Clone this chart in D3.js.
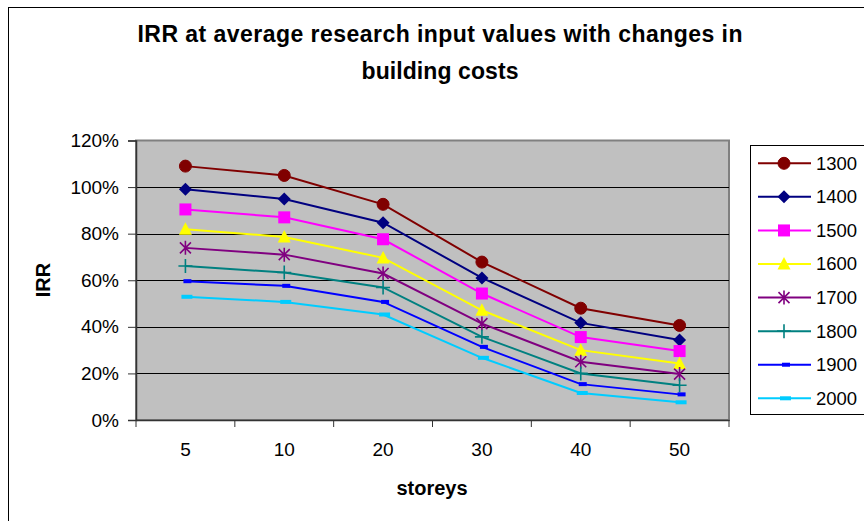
<!DOCTYPE html>
<html>
<head>
<meta charset="utf-8">
<script src="https://cdn.jsdelivr.net/npm/d3@7"></script>
<style>
  body { margin: 0; background: #fff; }
  svg { font-family: "Liberation Sans", Arial, sans-serif; }
</style>
</head>
<body>
<div id="chart-area"></div>
<script>
// chart data
const storeys = ["5", "10", "20", "30", "40", "50"];
const costs = ["1300", "1400", "1500", "1600", "1700", "1800", "1900", "2000"];
const irr1300 = [1.09, 1.05, 0.926, 0.678, 0.48, 0.406];
const irr1400 = [0.991, 0.949, 0.847, 0.61, 0.417, 0.343];
const irr1500 = [0.904, 0.87, 0.776, 0.543, 0.356, 0.296];
const irr1600 = [0.819, 0.786, 0.696, 0.471, 0.30, 0.243];
const irr1700 = [0.739, 0.71, 0.629, 0.414, 0.25, 0.197];
const irr1800 = [0.661, 0.633, 0.569, 0.357, 0.20, 0.149];
const irr1900 = [0.596, 0.576, 0.507, 0.314, 0.154, 0.11];
const irr2000 = [0.529, 0.507, 0.453, 0.267, 0.116, 0.076];
const yTicks = [0, 0.2, 0.4, 0.6, 0.8, 1.0, 1.2];

const seriesValues = [irr1300, irr1400, irr1500, irr1600, irr1700, irr1800, irr1900, irr2000];
const colors = ["#800000", "#000080", "#ff00ff", "#ffff00", "#800080", "#008080", "#0000ff", "#00ccff"];
const shapes = ["circle", "diamond", "square", "triangle", "star", "plus", "dash", "dashWide"];

const W = 864, H = 521;
const plot = { left: 136, right: 729, top: 140.5, bottom: 420 };

const svg = d3.select("#chart-area").append("svg")
  .attr("width", W)
  .attr("height", H);

// outer chart border (right and bottom edges fall outside the picture)
svg.append("rect")
  .attr("x", 8.5).attr("y", 7.5)
  .attr("width", 880).attr("height", 530)
  .attr("fill", "#fff")
  .attr("stroke", "#000");

// Scales
const x = d3.scaleBand().domain(storeys).range([plot.left, plot.right]).padding(0);
const y = d3.scaleLinear().domain([0, 1.2]).range([plot.bottom, plot.top]);
const cx = d => x(d) + x.bandwidth() / 2;

// plot background
svg.append("rect")
  .attr("x", plot.left).attr("y", plot.top)
  .attr("width", plot.right - plot.left).attr("height", plot.bottom - plot.top)
  .attr("fill", "#c0c0c0")
  .attr("stroke", "#808080")
  .attr("stroke-width", 2);

// gridlines
svg.append("g")
  .selectAll("line")
  .data(yTicks.filter(t => t > 0 && t < 1.2))
  .join("line")
  .attr("x1", plot.left).attr("x2", plot.right)
  .attr("y1", d => Math.round(y(d)) + 0.5).attr("y2", d => Math.round(y(d)) + 0.5)
  .attr("stroke", "#000");

// y axis
const yAxis = svg.append("g")
  .attr("transform", `translate(${plot.left},0)`)
  .call(d3.axisLeft(y).tickValues(yTicks).tickFormat(d3.format(".0%")).tickSize(8).tickPadding(9));
yAxis.select(".domain").attr("stroke", "#333").attr("stroke-width", 1.5);
yAxis.selectAll(".tick line").attr("stroke", "#333");
yAxis.selectAll("text").attr("font-size", 19).attr("fill", "#000");

// x axis (labels at centres, ticks at category borders like Excel)
const xAxis = svg.append("g")
  .attr("transform", `translate(0,${plot.bottom})`)
  .call(d3.axisBottom(x).tickSize(0).tickPadding(23));
xAxis.select(".domain").attr("stroke", "#333").attr("stroke-width", 1.5);
xAxis.selectAll("text").attr("font-size", 19).attr("fill", "#000");
xAxis.selectAll("line.cat")
  .data(storeys.concat(["end"]))
  .join("line")
  .attr("class", "cat")
  .attr("x1", (d, i) => plot.left + i * x.step()).attr("x2", (d, i) => plot.left + i * x.step())
  .attr("y1", 0).attr("y2", 7)
  .attr("stroke", "#333");

// markers
function drawMarker(g, shape, color) {
  if (shape === "circle") {
    g.append("circle").attr("r", 6).attr("fill", color).attr("stroke", color);
  } else if (shape === "diamond") {
    g.append("path").attr("d", "M0,-6.5L6.5,0L0,6.5L-6.5,0Z").attr("fill", color);
  } else if (shape === "square") {
    g.append("rect").attr("x", -6).attr("y", -6).attr("width", 12).attr("height", 12).attr("fill", color);
  } else if (shape === "triangle") {
    g.append("path").attr("d", "M0,-7L6.5,5.5L-6.5,5.5Z").attr("fill", color);
  } else if (shape === "star") {
    g.append("path").attr("d", "M-5.5,-5.5L5.5,5.5M-5.5,5.5L5.5,-5.5M0,-7L0,7")
      .attr("stroke", color).attr("stroke-width", 1.6).attr("fill", "none");
  } else if (shape === "plus") {
    g.append("path").attr("d", "M-7,0L7,0M0,-7L0,7")
      .attr("stroke", color).attr("stroke-width", 1.6).attr("fill", "none");
  } else if (shape === "dash") {
    g.append("rect").attr("x", -2).attr("y", -2).attr("width", 8).attr("height", 4).attr("fill", color);
  } else if (shape === "dashWide") {
    g.append("rect").attr("x", -4).attr("y", -2).attr("width", 11).attr("height", 4).attr("fill", color);
  }
}

// series lines
const line = d3.line()
  .x((d, i) => cx(storeys[i]))
  .y(d => y(d));

seriesValues.forEach((vals, k) => {
  svg.append("path")
    .attr("fill", "none")
    .attr("stroke", colors[k])
    .attr("stroke-width", 2)
    .attr("d", line(vals));
});
seriesValues.forEach((vals, k) => {
  vals.forEach((v, i) => {
    const g = svg.append("g").attr("transform", `translate(${cx(storeys[i])},${y(v)})`);
    drawMarker(g, shapes[k], colors[k]);
  });
});

// legend
const legend = svg.append("g");
legend.append("rect")
  .attr("x", 750.5).attr("y", 145.5)
  .attr("width", 130).attr("height", 269)
  .attr("fill", "#fff").attr("stroke", "#000");
costs.forEach((c, k) => {
  const ly = 163.3 + k * 33.57;
  const row = legend.append("g").attr("transform", `translate(0,${ly})`);
  row.append("line")
    .attr("x1", 758).attr("x2", 811)
    .attr("stroke", colors[k]).attr("stroke-width", 2);
  drawMarker(row.append("g").attr("transform", "translate(784,0)"), shapes[k], colors[k]);
  row.append("text")
    .attr("x", 816).attr("dy", "0.35em")
    .attr("font-size", 18.5)
    .text(c);
});

// title
const titleLines = ["IRR at average research input values with changes in", "building costs"];
const titleWidths = [605, 157];
const title = svg.append("g");
titleLines.forEach((t, i) => {
  title.append("text")
    .attr("x", 440).attr("y", 42 + i * 37)
    .attr("text-anchor", "middle")
    .attr("font-weight", "bold")
    .attr("font-size", 23)
    .attr("textLength", titleWidths[i])
    .attr("lengthAdjust", "spacing")
    .text(t);
});

// axis titles
svg.append("text")
  .attr("x", 432).attr("y", 495)
  .attr("text-anchor", "middle")
  .attr("font-weight", "bold")
  .attr("font-size", 20)
  .text("storeys");

svg.append("text")
  .attr("transform", "translate(50,280) rotate(-90)")
  .attr("text-anchor", "middle")
  .attr("font-weight", "bold")
  .attr("font-size", 20)
  .text("IRR");
</script>
</body>
</html>
